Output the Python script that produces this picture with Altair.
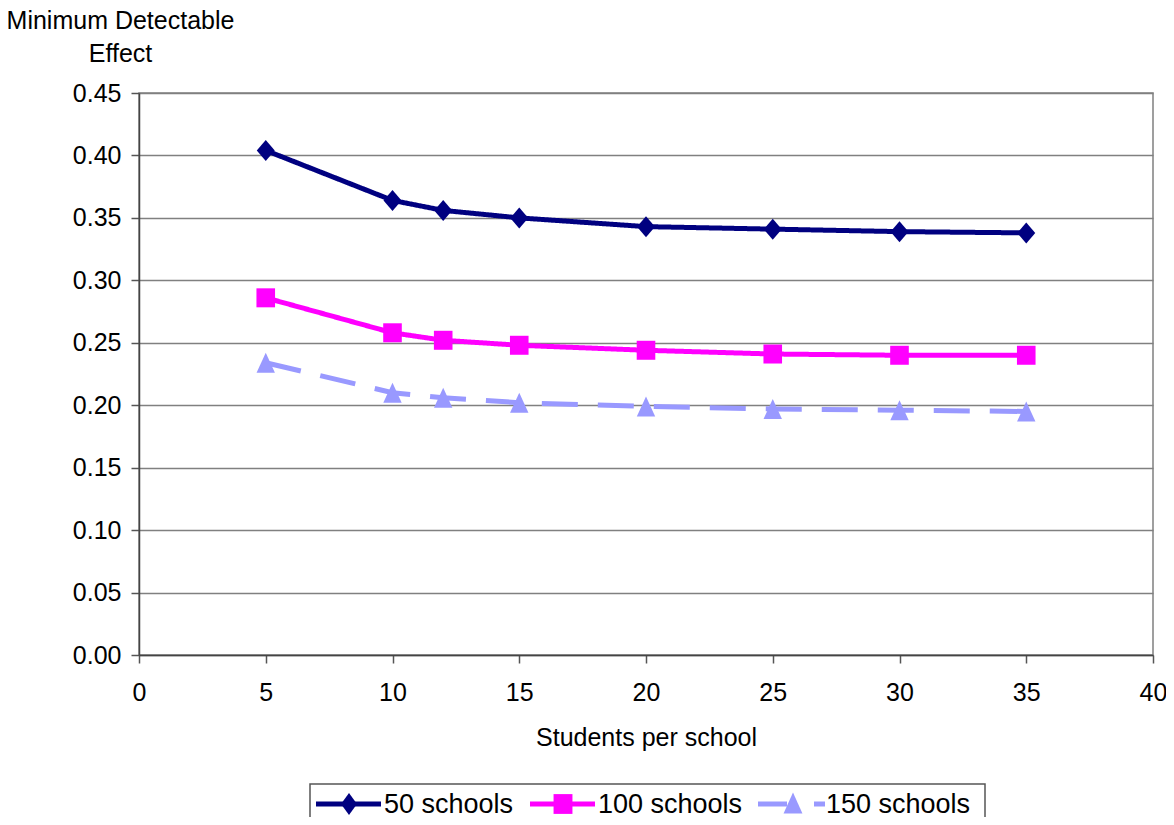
import altair as alt
import pandas as pd

students = [5, 10, 12, 15, 20, 25, 30, 35]
mde_50 = [0.404, 0.364, 0.356, 0.350, 0.343, 0.341, 0.339, 0.338]
mde_100 = [0.286, 0.258, 0.252, 0.248, 0.244, 0.241, 0.240, 0.240]
mde_150 = [0.234, 0.210, 0.206, 0.202, 0.199, 0.197, 0.196, 0.195]
series_names = ["50 schools", "100 schools", "150 schools"]
colors = ["#000080", "#FF00FF", "#9999FF"]
y_ticks = [0.0, 0.05, 0.10, 0.15, 0.20, 0.25, 0.30, 0.35, 0.40, 0.45]
x_ticks = [0, 5, 10, 15, 20, 25, 30, 35, 40]

rows = []
for name, vals in zip(series_names, [mde_50, mde_100, mde_150]):
    for s, v in zip(students, vals):
        rows.append({"series": name, "students": s, "mde": v})
df = pd.DataFrame(rows)

FONT = "Liberation Sans"

# plot markers (custom paths, unit = sqrt(size)/2)
marker_paths = [
    "M0,-1.05L0.9,0L0,1.05L-0.9,0Z",
    "M-0.93,-0.95H0.93V0.95H-0.93Z",
    "M0,-1L0.92,1L-0.92,1Z",
]
# legend markers (unit = 9px)
legend_marker_paths = [
    "M0,-1.22L0.89,0L0,1.22L-0.89,0Z",
    "M-1.05,-1.1H1.05V1.1H-1.05Z",
    "M0,-1.28L1.05,1.06L-1.05,1.06Z",
]

x_enc = alt.X(
    "students:Q",
    scale=alt.Scale(domain=[0, 40], nice=False, zero=False),
    axis=alt.Axis(
        values=x_ticks, grid=False, tickSize=8, tickWidth=1.5, tickColor="#555555",
        domainColor="#444444", domainWidth=1.5, labelFontSize=25, labelFont=FONT,
        labelColor="black", labelPadding=17, labelFlush=False, labelOverlap=False,
        title="Students per school", titleFont=FONT, titleFontSize=25,
        titleFontWeight="normal", titleColor="black", titleX=507, titleY=90,
        titleBaseline="alphabetic", titleAlign="center",
    ),
)
y_enc = alt.Y(
    "mde:Q",
    scale=alt.Scale(domain=[0, 0.45], nice=False, zero=False),
    axis=alt.Axis(
        values=y_ticks, format=".2f", grid=True, gridColor="#808080", gridWidth=1.5,
        tickSize=8, tickWidth=1.5, tickColor="#555555", domainColor="#444444",
        domainWidth=1.5, labelFontSize=25, labelFont=FONT, labelColor="black",
        labelPadding=10, labelOverlap=False, labelFlush=False,
        title=["Minimum Detectable", "Effect"], titleAngle=0, titleAlign="center",
        titleX=-19, titleY=-65, titleBaseline="alphabetic", titleFont=FONT,
        titleFontSize=25, titleFontWeight="normal", titleColor="black",
        titleLineHeight=33,
    ),
)

lines = alt.Chart(df).mark_line(strokeWidth=5).encode(
    x=x_enc,
    y=y_enc,
    stroke=alt.Stroke("series:N", scale=alt.Scale(domain=series_names, range=colors), legend=None),
    strokeDash=alt.StrokeDash(
        "series:N",
        scale=alt.Scale(domain=series_names, range=[[1, 0], [1, 0], [36, 20]]),
        legend=None,
    ),
)

point_layers = []
for name, col, path in zip(series_names, colors, marker_paths):
    point_layers.append(
        alt.Chart(df)
        .transform_filter(alt.datum.series == name)
        .mark_point(shape=path, filled=True, opacity=1, size=400, strokeWidth=0, color=col)
        .encode(x=x_enc, y=y_enc)
    )

# ---- legend (boxed, horizontal, below the plot) ----
LEG_LEFT, LEG_RIGHT, LEG_TOP, LEG_BOTTOM = 171, 846, 691, 745
ROW_Y = 711
entry_starts = [177, 391, 619]
SYMBOL_W = 65
MARKER_OFF = 33
LABEL_OFF = 68

legend_layers = [
    alt.Chart(pd.DataFrame({"series": ["legend"]}))
    .mark_rect(fill="white", stroke="#555555", strokeWidth=1.5)
    .encode(x=alt.value(LEG_LEFT), x2=alt.value(LEG_RIGHT),
            y=alt.value(LEG_TOP), y2=alt.value(LEG_BOTTOM))
]
for i, (name, col, path) in enumerate(zip(series_names, colors, legend_marker_paths)):
    x0 = entry_starts[i]
    one = pd.DataFrame({"series": [name]})
    if i < 2:
        segs = [(x0, x0 + SYMBOL_W)]
    else:
        segs = [(x0, x0 + 29), (x0 + 56, x0 + 67)]
    for a, b in segs:
        legend_layers.append(
            alt.Chart(one).mark_rule(strokeWidth=5, color=col)
            .encode(x=alt.value(a), x2=alt.value(b), y=alt.value(ROW_Y))
        )
    mx = x0 + MARKER_OFF + (2 if i == 2 else 0)
    legend_layers.append(
        alt.Chart(one).mark_point(shape=path, filled=True, opacity=1, size=324,
                                  strokeWidth=0, color=col)
        .encode(x=alt.value(mx), y=alt.value(ROW_Y))
    )
    legend_layers.append(
        alt.Chart(one).mark_text(align="left", baseline="middle", font=FONT,
                                 fontSize=27, color="black")
        .encode(x=alt.value(x0 + LABEL_OFF), y=alt.value(ROW_Y + 1), text="series:N")
    )

chart = (
    alt.layer(lines, *point_layers, *legend_layers)
    .properties(
        width=1014, height=562, autosize=alt.AutoSizeParams(type="none"),
        padding={"left": 131, "top": 85, "right": 13, "bottom": 162},
        background="white",
    )
    .configure_view(stroke="#808080", strokeWidth=1.5)
)

chart.save("out.html", embed_options={"renderer": "svg", "actions": False})
